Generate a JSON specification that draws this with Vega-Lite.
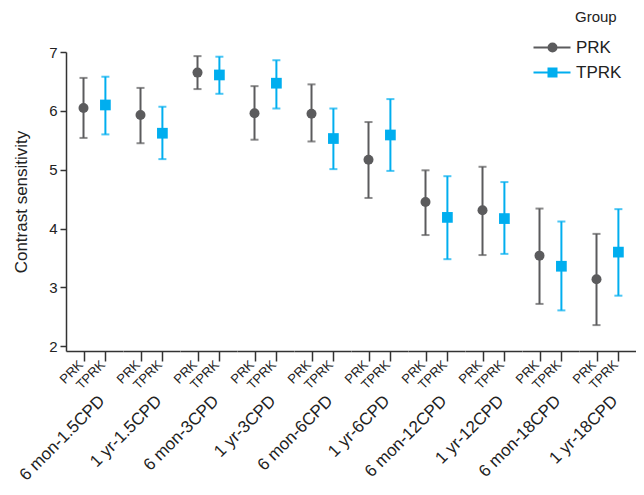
{
  "$schema": "https://vega.github.io/schema/vega-lite/v6.json",
  "background": "white",
  "padding": {"top": 10, "left": 12, "right": 0, "bottom": 0},
  "data": {"values": [
    {"period": "6 mon-1.5CPD", "Group": "PRK", "mean": 6.05, "lo": 5.54, "hi": 6.56},
    {"period": "6 mon-1.5CPD", "Group": "TPRK", "mean": 6.10, "lo": 5.60, "hi": 6.58},
    {"period": "1 yr-1.5CPD", "Group": "PRK", "mean": 5.93, "lo": 5.45, "hi": 6.39},
    {"period": "1 yr-1.5CPD", "Group": "TPRK", "mean": 5.62, "lo": 5.18, "hi": 6.07},
    {"period": "6 mon-3CPD", "Group": "PRK", "mean": 6.65, "lo": 6.37, "hi": 6.93},
    {"period": "6 mon-3CPD", "Group": "TPRK", "mean": 6.61, "lo": 6.29, "hi": 6.92},
    {"period": "1 yr-3CPD", "Group": "PRK", "mean": 5.96, "lo": 5.51, "hi": 6.42},
    {"period": "1 yr-3CPD", "Group": "TPRK", "mean": 6.47, "lo": 6.04, "hi": 6.86},
    {"period": "6 mon-6CPD", "Group": "PRK", "mean": 5.95, "lo": 5.48, "hi": 6.45},
    {"period": "6 mon-6CPD", "Group": "TPRK", "mean": 5.53, "lo": 5.01, "hi": 6.04},
    {"period": "1 yr-6CPD", "Group": "PRK", "mean": 5.17, "lo": 4.52, "hi": 5.81},
    {"period": "1 yr-6CPD", "Group": "TPRK", "mean": 5.59, "lo": 4.98, "hi": 6.20},
    {"period": "6 mon-12CPD", "Group": "PRK", "mean": 4.45, "lo": 3.89, "hi": 4.99},
    {"period": "6 mon-12CPD", "Group": "TPRK", "mean": 4.19, "lo": 3.48, "hi": 4.89},
    {"period": "1 yr-12CPD", "Group": "PRK", "mean": 4.31, "lo": 3.55, "hi": 5.05},
    {"period": "1 yr-12CPD", "Group": "TPRK", "mean": 4.17, "lo": 3.57, "hi": 4.79},
    {"period": "6 mon-18CPD", "Group": "PRK", "mean": 3.54, "lo": 2.72, "hi": 4.34},
    {"period": "6 mon-18CPD", "Group": "TPRK", "mean": 3.36, "lo": 2.61, "hi": 4.12},
    {"period": "1 yr-18CPD", "Group": "PRK", "mean": 3.14, "lo": 2.36, "hi": 3.91},
    {"period": "1 yr-18CPD", "Group": "TPRK", "mean": 3.60, "lo": 2.86, "hi": 4.33}
  ]},
  "facet": {
    "column": {
      "field": "period",
      "type": "nominal",
      "sort": ["6 mon-1.5CPD", "1 yr-1.5CPD", "6 mon-3CPD", "1 yr-3CPD", "6 mon-6CPD", "1 yr-6CPD", "6 mon-12CPD", "1 yr-12CPD", "6 mon-18CPD", "1 yr-18CPD"],
      "header": {
        "title": null,
        "labelOrient": "bottom",
        "labelAngle": -45,
        "labelAlign": "right",
        "labelBaseline": "line-top",
        "labelLineHeight": 23,
        "labelFont": "Liberation Sans",
        "labelFontSize": 17,
        "labelColor": "#222222",
        "labelPadding": -1
      }
    }
  },
  "spacing": 0,
  "spec": {
    "width": 56.9,
    "height": 299,
    "encoding": {
      "x": {
        "field": "Group",
        "type": "nominal",
        "scale": {"type": "point", "padding": 0.8, "domain": ["PRK", "TPRK"]},
        "axis": {
          "title": null,
          "labelAngle": -45,
          "labelAlign": "right",
          "labelBaseline": "alphabetic",
          "labelFont": "Liberation Sans",
          "labelFontSize": 13,
          "labelColor": "#222222",
          "labelPadding": 4,
          "tickSize": 10,
          "tickColor": "#333333",
          "domainColor": "#333333",
          "tickWidth": 1.5,
          "domainWidth": 1.5
        }
      },
      "y": {
        "field": "mean",
        "type": "quantitative",
        "scale": {"domain": [1.92, 7], "nice": false, "zero": false},
        "axis": {
          "title": "Contrast sensitivity",
          "values": [2, 3, 4, 5, 6, 7],
          "format": "d",
          "grid": false,
          "titleFont": "Liberation Sans",
          "titleFontSize": 17,
          "titleFontWeight": "normal",
          "titleColor": "#222222",
          "titlePadding": 18,
          "labelFont": "Liberation Sans",
          "labelFontSize": 15,
          "labelColor": "#222222",
          "labelPadding": 3,
          "tickSize": 6,
          "tickColor": "#333333",
          "domainColor": "#333333",
          "tickWidth": 1.5,
          "domainWidth": 1.5
        }
      }
    },
    "layer": [
      {
        "mark": {"type": "point", "filled": false, "opacity": 0, "strokeWidth": 2, "size": 1},
        "encoding": {
          "color": {
            "field": "Group",
            "type": "nominal",
            "scale": {"domain": ["PRK", "TPRK"], "range": ["#5b5b5d", "#00aeef"]},
            "legend": {
              "title": "Group",
              "orient": "none",
              "legendX": 509,
              "legendY": -42,
              "titleFont": "Liberation Sans",
              "titleFontSize": 15,
              "titleFontWeight": "normal",
              "titleColor": "#222222",
              "titlePadding": 14,
              "labelFont": "Liberation Sans",
              "labelFontSize": 17,
              "labelColor": "#222222",
              "labelOffset": -16,
              "rowPadding": 7,
              "symbolSize": 100,
              "symbolOpacity": 1,
              "symbolStrokeWidth": 2
            }
          },
          "shape": {
            "field": "Group",
            "type": "nominal",
            "scale": {
              "domain": ["PRK", "TPRK"],
              "range": [
                "M-10,0H-2.6M-7,0A0.8,0.8,0,1,1,-5.4,0A0.8,0.8,0,1,1,-7,0M-6.6,0A0.4,0.4,0,1,1,-5.8,0A0.4,0.4,0,1,1,-6.6,0M-6.32,0A0.12,0.12,0,1,1,-6.08,0A0.12,0.12,0,1,1,-6.32,0",
                "M-10,0H-2.6M-7,-0.8H-5.4V0.8H-7ZM-6.6,-0.4H-5.8V0.4H-6.6ZM-6.3,-0.1H-6.1V0.1H-6.3Z"
              ]
            }
          }
        }
      },
      {
        "mark": {"type": "rule", "strokeWidth": 2},
        "encoding": {
          "y": {"field": "lo", "type": "quantitative"},
          "y2": {"field": "hi"},
          "color": {"field": "Group", "type": "nominal", "legend": null}
        }
      },
      {
        "mark": {"type": "tick", "size": 8, "thickness": 2},
        "encoding": {
          "y": {"field": "lo", "type": "quantitative"},
          "color": {"field": "Group", "type": "nominal", "legend": null}
        }
      },
      {
        "mark": {"type": "tick", "size": 8, "thickness": 2},
        "encoding": {
          "y": {"field": "hi", "type": "quantitative"},
          "color": {"field": "Group", "type": "nominal", "legend": null}
        }
      },
      {
        "transform": [{"filter": "datum.Group === 'PRK'"}],
        "mark": {"type": "point", "filled": true, "opacity": 1, "shape": "circle", "size": 100},
        "encoding": {
          "color": {"field": "Group", "type": "nominal", "legend": null}
        }
      },
      {
        "transform": [{"filter": "datum.Group === 'TPRK'"}],
        "mark": {"type": "point", "filled": true, "opacity": 1, "shape": "square", "size": 115},
        "encoding": {
          "color": {"field": "Group", "type": "nominal", "legend": null}
        }
      }
    ]
  },
  "config": {
    "view": {"stroke": null},
    "axis": {"grid": false}
  }
}
